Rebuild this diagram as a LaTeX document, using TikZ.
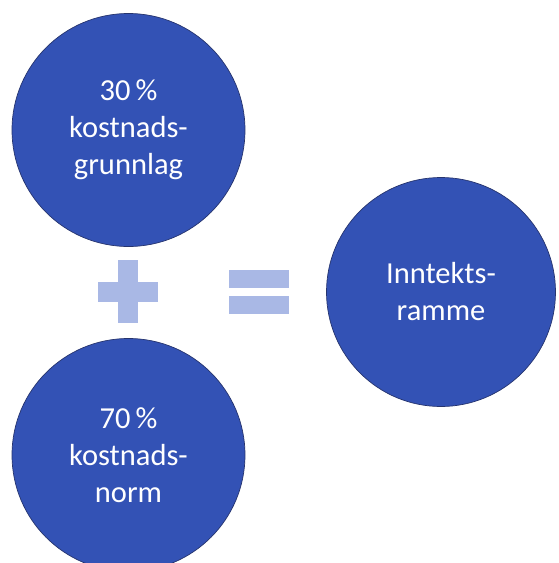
\documentclass[tikz,border=0pt]{standalone}
\usepackage{fontspec}
\setmainfont{Carlito}
\definecolor{circfill}{RGB}{51,82,181}
\definecolor{circline}{RGB}{38,52,110}
\definecolor{opcol}{RGB}{169,184,229}
\begin{document}
\begin{tikzpicture}[x=1pt,y=-1pt,
  bigcirc/.style={circle,fill=circfill,draw=circline,line width=0.7pt,inner sep=0pt,
    text=white,align=center,font=\fontsize{30.5}{37}\selectfont},
  opbar/.style={fill=opcol,draw=none}]
\useasboundingbox (0,0) rectangle (558,563);
\node[bigcirc,minimum size=233] (a) at (128.5,130) {30\,\%\\kostnads-\\grunnlag};
\node[bigcirc,minimum size=233] (b) at (128.5,455) {70\,\%\\kostnads-\\norm};
\node[bigcirc,minimum size=229] (c) at (441,292) {Inntekts-\\ramme};
% plus sign
\fill[opbar] (117.5,260) rectangle (137.5,322.5);
\fill[opbar] (97.5,281.5) rectangle (157.5,301.5);
% equals sign
\fill[opbar] (228.5,269.5) rectangle (288.5,287.5);
\fill[opbar] (228.5,296) rectangle (288.5,314);
\end{tikzpicture}
\end{document}
